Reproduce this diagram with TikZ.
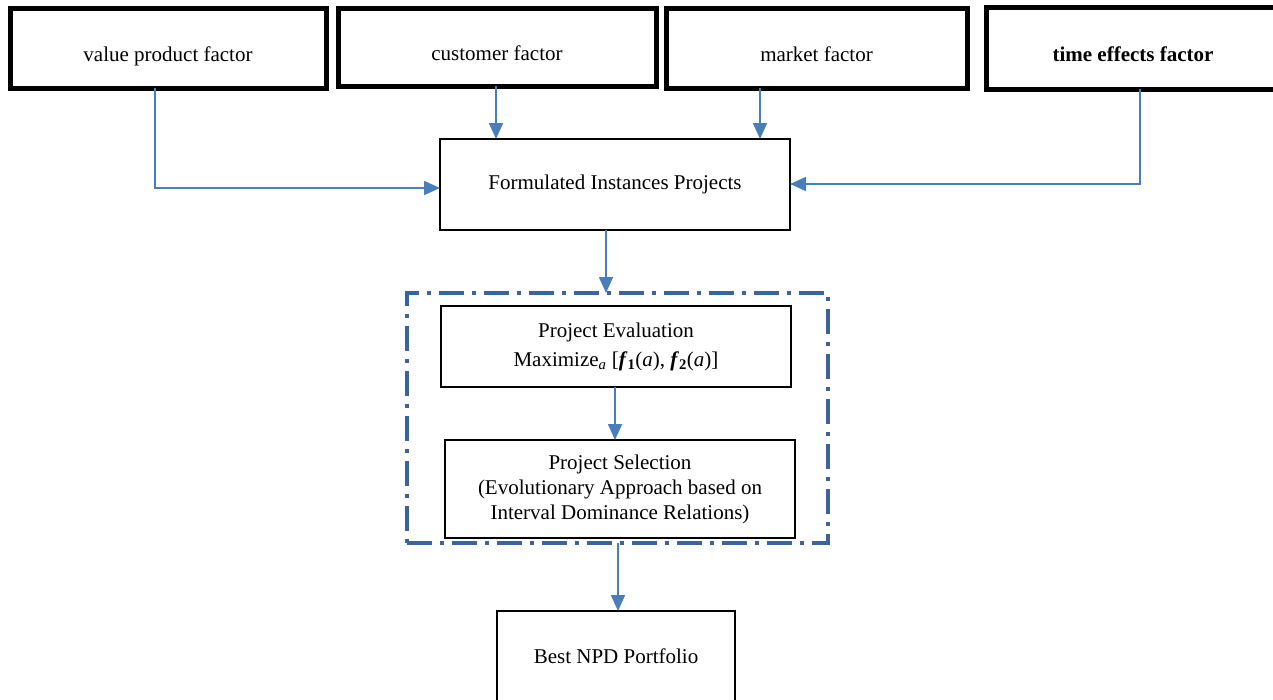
\documentclass[tikz,border=0pt]{standalone}
\usepackage{fontspec}
\setmainfont{Liberation Serif}
\usetikzlibrary{arrows.meta,calc}
\definecolor{arrowblue}{RGB}{74,126,187}
\definecolor{framblue}{RGB}{62,99,150}
\begin{document}
\begin{tikzpicture}[x=1pt,y=-1pt,
  font=\fontsize{21}{25}\selectfont,
  factorbox/.style={draw=black,line width=5pt,inner sep=0pt,outer sep=0pt,
    text height=31pt,text depth=4pt,fill=white},
  plainbox/.style={draw=black,line width=1.3pt,inner sep=0pt,outer sep=0pt,align=center},
  flow/.style={draw=arrowblue,line width=1.8pt,-{Triangle[length=16pt,width=14pt]}},
  frame/.style={draw=framblue,line width=3.5pt,dash pattern=on 25pt off 8pt on 4pt off 8pt,
    inner sep=0pt,outer sep=0pt}
]
\useasboundingbox (0,0) rectangle (1273,699);
\clip (0,0) rectangle (1273,699);

% top factor boxes
\node[factorbox,minimum width=316pt,minimum height=80pt] (v) at (168,48) {value product factor};
\node[factorbox,minimum width=318pt,minimum height=78pt] (c) at (497,47) {customer factor};
\node[factorbox,minimum width=301pt,minimum height=80pt] (m) at (816.5,48) {market factor};
\node[factorbox,minimum width=294pt,minimum height=82pt] (t) at (1133,48) {\textbf{time effects factor}};

% middle
\node[plainbox,minimum width=350pt,minimum height=91pt] (f) at (615,184.5) {Formulated Instances Projects};

\node[frame,minimum width=421pt,minimum height=250pt] (fr) at (617.5,418) {};

\node[plainbox,minimum width=350pt,minimum height=81pt,font=\fontsize{21}{29}\selectfont] (e) at (616,346.5)
  {Project Evaluation\\Maximize\textsubscript{\textit{a}} [\textbf{\textit{f}}\textsubscript{\textbf{1}}(\textit{a}), \textbf{\textit{f}}\textsubscript{\textbf{2}}(\textit{a})]};
\node[plainbox,minimum width=350pt,minimum height=98pt] (s) at (620,489)
  {Project Selection\\(Evolutionary Approach based on\\Interval Dominance Relations)};

\node[plainbox,minimum width=238pt,minimum height=90pt] (b) at (616,656) {Best NPD Portfolio};

% guide coordinates
\coordinate (vx) at (155,188);
\coordinate (cx) at (496,0);
\coordinate (mx) at (760,0);
\coordinate (tx) at (1140,184);
\coordinate (fx) at (606,0);
\coordinate (ex) at (615,0);
\coordinate (sx) at (618,0);

\draw[flow] (v.south -| vx) -- (vx) -- (f.west |- vx);
\draw[flow] (c.south -| cx) -- (f.north -| cx);
\draw[flow] (m.south -| mx) -- (f.north -| mx);
\draw[flow] (t.south -| tx) -- (tx) -- (f.east |- tx);
\draw[flow] (f.south -| fx) -- (fr.north -| fx);
\draw[flow] (e.south -| ex) -- (s.north -| ex);
\draw[flow] (fr.south -| sx) -- (b.north -| sx);
\end{tikzpicture}
\end{document}
